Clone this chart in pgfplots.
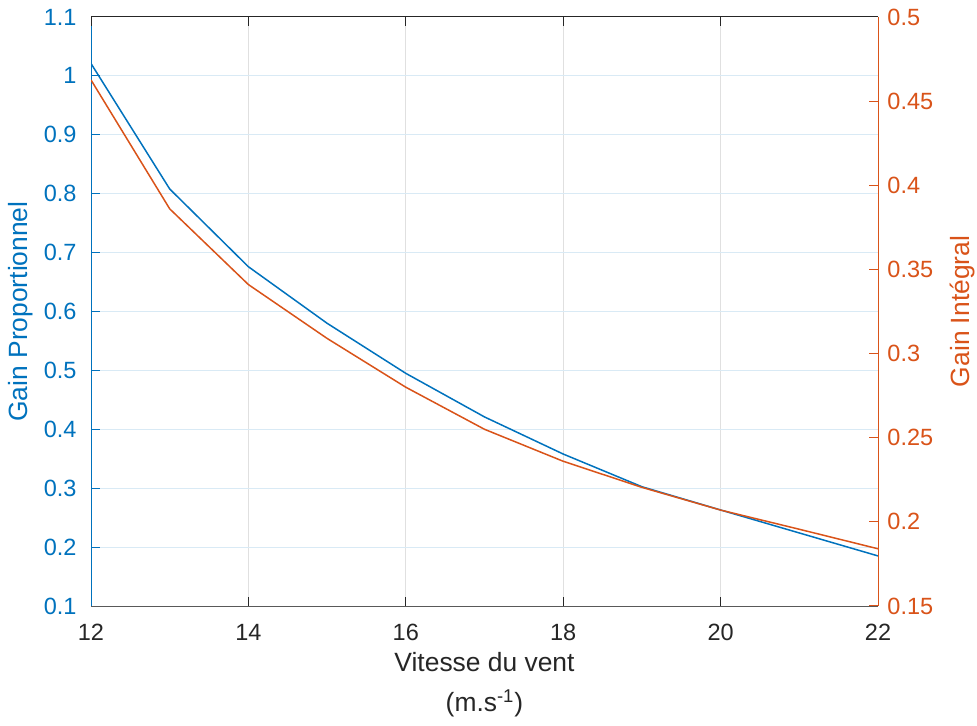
\documentclass[border=0pt]{standalone}
\usepackage{fontspec}
\setmainfont{Liberation Sans}
\usepackage{pgfplots}
\pgfplotsset{compat=1.18}
\definecolor{mblue}{RGB}{0,114,189}
\definecolor{morange}{RGB}{217,83,25}
\definecolor{mdark}{RGB}{38,38,38}
\definecolor{hgrid}{RGB}{217,234,245}
\definecolor{vgrid}{RGB}{224,224,224}
\begin{document}
\begin{tikzpicture}
\pgfplotsset{
  common/.style={
    at={(0,0)}, anchor=south west,
    scale only axis, width=393.5pt, height=294.5pt,
    xmin=12, xmax=22,
    xtick={12,14,16,18,20,22},
    tick align=inside,
    major tick length=4.5pt,
    /pgf/number format/assume math mode=true,
    /pgf/number format/fixed,
    /pgf/number format/precision=2,
    ticklabel style={font=\fontsize{11.75}{13}\selectfont},
    label style={font=\fontsize{13.2}{20}\selectfont},
  }
}
\begin{axis}[common,
  ymin=0.1, ymax=1.1,
  ytick={0.1,0.2,0.3,0.4,0.5,0.6,0.7,0.8,0.9,1.0,1.1},
  axis x line*=bottom, axis y line*=left,
  x axis line style={color=black!65, line width=0.5pt},
  y axis line style={color=mblue, line width=0.5pt},
  xtick style={color=mdark, line width=0.5pt},
  ytick style={color=mblue, line width=0.5pt},
  xticklabel style={color=mdark, yshift=-5.7pt},
  yticklabel style={color=mblue, xshift=-3.7pt},
  xmajorgrids, ymajorgrids,
  major x grid style={color=vgrid, line width=0.5pt},
  major y grid style={color=hgrid, line width=0.5pt},
  xlabel={Vitesse du vent\\(m.s\textsuperscript{-1})},
  xlabel style={at={(axis description cs:0.5,0)}, anchor=north, yshift=-19.5pt, align=center, color=mdark},
  ylabel={Gain Proportionnel},
  ylabel style={at={([xshift=-35pt]axis description cs:0,0.5)}, anchor=center, color=mblue},
]
\addplot[color=mblue, line width=0.75pt] coordinates {
(12,1.021) (13,0.808) (14,0.676) (15,0.580) (16,0.495) (17,0.421)
(18,0.358) (19,0.3025) (20,0.263) (21,0.224) (22,0.185)
};
\end{axis}
\begin{axis}[common,
  ymin=0.15, ymax=0.5,
  ytick={0.15,0.2,0.25,0.3,0.35,0.4,0.45,0.5},
  axis x line*=top, axis y line*=right,
  xticklabels={},
  x axis line style={color=mdark, line width=0.5pt},
  y axis line style={color=morange, line width=0.5pt},
  xtick style={color=mdark, line width=0.5pt},
  ytick style={color=morange, line width=0.5pt},
  yticklabel style={color=morange, xshift=1.2pt},
  ylabel={Gain Intégral},
  ylabel style={at={([xshift=42pt]axis description cs:1,0.5)}, anchor=center, rotate=0, color=morange},
]
\addplot[color=morange, line width=0.75pt] coordinates {
(12,0.4626) (13,0.386) (14,0.341) (15,0.309) (16,0.280) (17,0.255)
(18,0.236) (19,0.2205) (20,0.207) (21,0.1956) (22,0.184)
};
\end{axis}
\pgfresetboundingbox
\path (-45.5pt,-60pt) rectangle (443pt,303pt);
\end{tikzpicture}
\end{document}
